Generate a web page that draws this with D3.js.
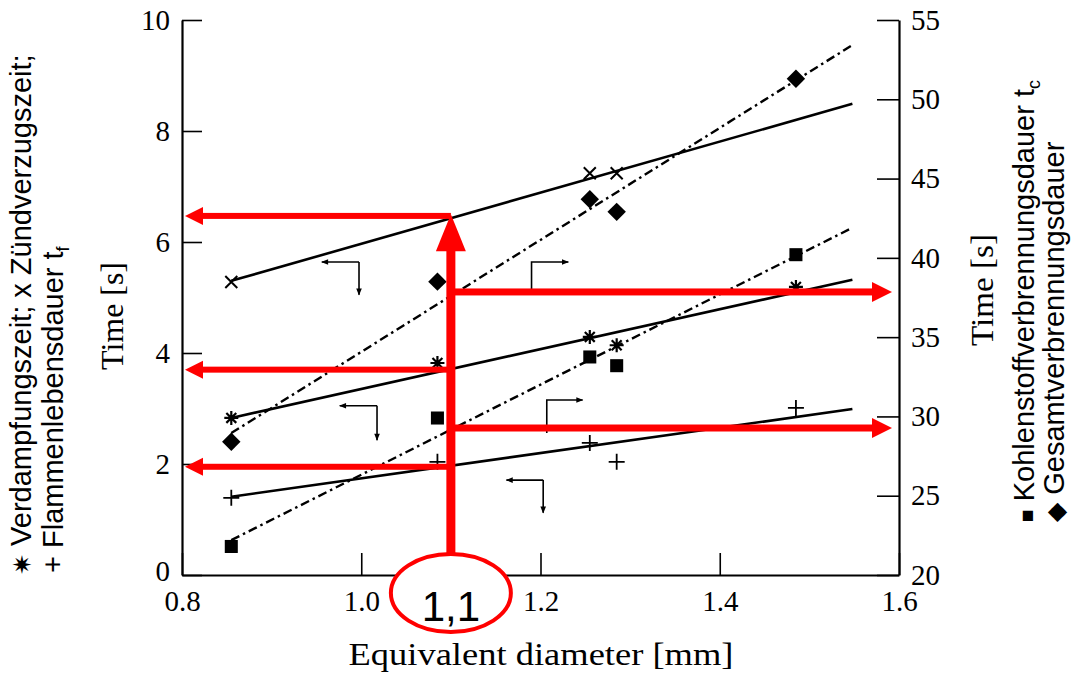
<!DOCTYPE html>
<html>
<head>
<meta charset="utf-8">
<script src="https://cdn.jsdelivr.net/npm/d3@7"></script>
<style>
  html, body { margin: 0; padding: 0; background: #fff; }
  svg { display: block; }
</style>
</head>
<body>
<svg id="chart" width="1072" height="675"></svg>
<script>
// ---------------- data ----------------
const diameters = [0.855, 1.085, 1.255, 1.285, 1.485];

// left axis series (Time [s], 0..10)
const ignitionX = [0.855, 1.255, 1.285];
const ignitionDelay = [5.28, 7.24, 7.24];               // x  Zündverzugszeit
const evaporationTime = [2.83, 3.82, 4.29, 4.14, 5.19]; // ✷ Verdampfungszeit
const flameLifetime = [1.39, 2.04, 2.38, 2.04, 3.01];   // + Flammenlebensdauer

// right axis series (Time [s], 20..55)
const carbonBurnout = [21.8, 29.9, 33.75, 33.2, 40.2];  // ■ Kohlenstoffverbrennungsdauer
const totalBurnout = [28.4, 38.5, 43.7, 42.9, 51.3];    // ◆ Gesamtverbrennungsdauer

// fitted lines [x0, y0, x1, y1]
const fitIgnition = [0.855, 5.30, 1.548, 8.49];
const fitEvaporation = [0.855, 2.83, 1.548, 5.32];
const fitFlame = [0.855, 1.41, 1.548, 2.99];
const fitTotal = [0.855, 28.95, 1.548, 53.42];
const fitCarbon = [0.855, 22.2, 1.548, 41.9];

// tick values
const xTicks = [0.8, 1.0, 1.2, 1.4, 1.6];
const leftTicks = [0, 2, 4, 6, 8, 10];
const rightTicks = [20, 25, 30, 35, 40, 45, 50, 55];

// axis-hint arrows: corner x, corner y, horizontal tip x, vertical end y
const hintLeft = [ // point to left axis
  [0.9975, 5.64, 0.956, 5.05],
  [1.0176, 3.05, 0.976, 2.43],
  [1.203, 1.71, 1.162, 1.12]
];
const hintRight = [ // point to right axis
  [1.19, 39.74, 1.231, 37.78],
  [1.207, 31.04, 1.247, 28.95]
];

// red reading aid at d = 1.1
const readX = 1.1;
const readTopLeft = 6.5;
const readLeftValues = [6.47, 3.70, 1.95];
const readRightValues = [37.85, 29.27];
const readLabel = "1,1";

// ---------------- scales ----------------
const svg = d3.select("#chart");
const x = d3.scaleLinear().domain([0.8, 1.6]).range([182, 899]);
const yL = d3.scaleLinear().domain([0, 10]).range([575, 20]);
const yR = d3.scaleLinear().domain([20, 55]).range([575, 20]);

const serif = "'Liberation Serif','Times New Roman',serif";
const sans = "'Liberation Sans',Arial,'DejaVu Sans',sans-serif";

// ---------------- axes ----------------
const gL = svg.append("g").attr("transform", `translate(${x.range()[0]},0)`)
  .call(d3.axisLeft(yL).tickValues(leftTicks).tickSizeInner(-20).tickSizeOuter(0).tickPadding(12).tickFormat(d3.format("d")));
const gR = svg.append("g").attr("transform", `translate(${x.range()[1]},0)`)
  .call(d3.axisRight(yR).tickValues(rightTicks).tickSizeInner(-22).tickSizeOuter(0).tickPadding(12).tickFormat(d3.format("d")));
const gB = svg.append("g").attr("transform", `translate(0,${yL.range()[0]})`)
  .call(d3.axisBottom(x).tickValues(xTicks).tickSizeInner(-22).tickSizeOuter(0).tickPadding(15).tickFormat(d3.format(".1f")));

[gL, gR, gB].forEach(g => {
  g.select(".domain").attr("stroke", "#000").attr("stroke-width", 2.2);
  g.selectAll(".tick line").attr("stroke", "#000").attr("stroke-width", 1.6);
  g.selectAll(".tick text").attr("fill", "#000").style("font-family", serif).style("font-size", "29px");
});
// keep the "0" of the left axis just clear of the "0.8" below it
gL.selectAll(".tick text").filter(d => d === 0).attr("dy", "0.2em");

// axis titles
svg.append("text").attr("x", 541).attr("y", 665).attr("text-anchor", "middle")
  .attr("textLength", 385).attr("lengthAdjust", "spacingAndGlyphs")
  .style("font-family", serif).style("font-size", "31px").attr("fill", "#000")
  .text("Equivalent diameter [mm]");
svg.append("text").attr("transform", "translate(123,316) rotate(-90)").attr("text-anchor", "middle")
  .attr("textLength", 108).attr("lengthAdjust", "spacingAndGlyphs")
  .style("font-family", serif).style("font-size", "31px").attr("fill", "#000")
  .text("Time [s]");
svg.append("text").attr("transform", "translate(993,290) rotate(-90)").attr("text-anchor", "middle")
  .attr("textLength", 112).attr("lengthAdjust", "spacingAndGlyphs")
  .style("font-family", serif).style("font-size", "31px").attr("fill", "#000")
  .text("Time [s]");

// ---------------- fitted lines ----------------
function fitLine(fit, yScale, dashed) {
  const line = d3.line().x(d => x(d[0])).y(d => yScale(d[1]));
  svg.append("path")
    .attr("d", line([[fit[0], fit[1]], [fit[2], fit[3]]]))
    .attr("fill", "none").attr("stroke", "#000")
    .attr("stroke-width", dashed ? 2.4 : 2.6)
    .attr("stroke-dasharray", dashed ? "9,4,2.5,4" : null);
}
fitLine(fitIgnition, yL, false);
fitLine(fitEvaporation, yL, false);
fitLine(fitFlame, yL, false);
fitLine(fitTotal, yR, true);
fitLine(fitCarbon, yR, true);

// ---------------- markers ----------------
function crossPath(r) { return `M${-r},${-r}L${r},${r}M${-r},${r}L${r},${-r}`; }
function plusPath(r) { return `M${-r},0L${r},0M0,${-r}L0,${r}`; }
function starPath(r) {
  let p = "";
  for (let i = 0; i < 4; i++) {
    const a = i * Math.PI / 4;
    p += `M${-r * Math.cos(a)},${-r * Math.sin(a)}L${r * Math.cos(a)},${r * Math.sin(a)}`;
  }
  return p;
}

svg.append("g").selectAll("path").data(ignitionX.map((d, i) => [d, ignitionDelay[i]])).join("path")
  .attr("transform", d => `translate(${x(d[0])},${yL(d[1])})`)
  .attr("d", crossPath(6)).attr("stroke", "#000").attr("stroke-width", 2).attr("fill", "none");

svg.append("g").selectAll("path").data(diameters.map((d, i) => [d, evaporationTime[i]])).join("path")
  .attr("transform", d => `translate(${x(d[0])},${yL(d[1])})`)
  .attr("d", starPath(7)).attr("stroke", "#000").attr("stroke-width", 2.2).attr("fill", "none");

svg.append("g").selectAll("path").data(diameters.map((d, i) => [d, flameLifetime[i]])).join("path")
  .attr("transform", d => `translate(${x(d[0])},${yL(d[1])})`)
  .attr("d", plusPath(8)).attr("stroke", "#000").attr("stroke-width", 1.8).attr("fill", "none");

svg.append("g").selectAll("path").data(diameters.map((d, i) => [d, carbonBurnout[i]])).join("path")
  .attr("transform", d => `translate(${x(d[0])},${yR(d[1])})`)
  .attr("d", d3.symbol(d3.symbolSquare, 170)()).attr("fill", "#000");

svg.append("g").selectAll("path").data(diameters.map((d, i) => [d, totalBurnout[i]])).join("path")
  .attr("transform", d => `translate(${x(d[0])},${yR(d[1])}) rotate(45)`)
  .attr("d", d3.symbol(d3.symbolSquare, 170)()).attr("fill", "#000");

// ---------------- axis hint arrows ----------------
const defs = svg.append("defs");
defs.append("marker").attr("id", "ah").attr("viewBox", "0 0 10 10").attr("refX", 9).attr("refY", 5)
  .attr("markerWidth", 9).attr("markerHeight", 7).attr("markerUnits", "userSpaceOnUse").attr("orient", "auto")
  .append("path").attr("d", "M0,1L10,5L0,9Z").attr("fill", "#000");

hintLeft.forEach(h => {
  const cx = x(h[0]), cy = yL(h[1]);
  svg.append("path").attr("d", `M${cx},${cy}L${x(h[2])},${cy}`).attr("stroke", "#000").attr("stroke-width", 1.6).attr("marker-end", "url(#ah)");
  svg.append("path").attr("d", `M${cx},${cy}L${cx},${yL(h[3])}`).attr("stroke", "#000").attr("stroke-width", 1.6).attr("marker-end", "url(#ah)");
});
hintRight.forEach(h => {
  const cx = x(h[0]), cy = yR(h[1]);
  svg.append("path").attr("d", `M${cx},${yR(h[3])}L${cx},${cy}L${x(h[2])},${cy}`).attr("fill", "none")
    .attr("stroke", "#000").attr("stroke-width", 1.6).attr("marker-end", "url(#ah)");
});

// ---------------- legends (rotated) ----------------
function legendLine(tx, ty, parts) {
  const t = svg.append("text").attr("transform", `translate(${tx},${ty}) rotate(-90)`)
    .style("font-family", sans).style("font-size", "29px").attr("fill", "#000");
  parts.forEach(p => {
    const s = t.append("tspan").text(p.t);
    if (p.sub) s.style("font-size", "18px").attr("dy", 6);
    if (p.size) s.style("font-size", p.size);
  });
}
legendLine(31, 575, [{ t: "✷", size: "25px" }, { t: "  Verdampfungszeit; x Zündverzugszeit;" }]);
legendLine(63, 573, [{ t: "+ Flammenlebensdauer t" }, { t: "f", sub: true }]);
legendLine(1034, 522, [{ t: "■", size: "21px" }, { t: " Kohlenstoffverbrennungsdauer t" }, { t: "c", sub: true }]);
legendLine(1064, 522, [{ t: "◆", size: "25px" }, { t: " Gesamtverbrennungsdauer" }]);

// ---------------- red reading aid ----------------
const red = "#ff0000";
const rx = x(readX);
const rTop = yL(readTopLeft);
// vertical arrow
svg.append("rect").attr("x", rx - 4.5).attr("y", rTop + 30).attr("width", 9).attr("height", 553 - (rTop + 30)).attr("fill", red);
svg.append("path").attr("d", `M${rx},${rTop}L${rx + 15},${rTop + 37}L${rx - 15},${rTop + 37}Z`).attr("fill", red);
// left arrows
readLeftValues.forEach(v => {
  const yy = yL(v);
  const tip = x.range()[0] + 3;
  svg.append("rect").attr("x", tip + 15).attr("y", yy - 3).attr("width", rx - tip - 15).attr("height", 6).attr("fill", red);
  svg.append("path").attr("d", `M${tip},${yy}L${tip + 18},${yy - 9}L${tip + 18},${yy + 9}Z`).attr("fill", red);
});
// right arrows
readRightValues.forEach(v => {
  const yy = yR(v);
  const tip = x.range()[1] - 7;
  svg.append("rect").attr("x", rx).attr("y", yy - 3.5).attr("width", tip - rx - 16).attr("height", 7).attr("fill", red);
  svg.append("path").attr("d", `M${tip},${yy}L${tip - 20},${yy - 10}L${tip - 20},${yy + 10}Z`).attr("fill", red);
});
// ellipse with label
svg.append("ellipse").attr("cx", rx).attr("cy", 593).attr("rx", 60).attr("ry", 39)
  .attr("fill", "#fff").attr("stroke", red).attr("stroke-width", 4);
svg.append("text").attr("x", rx).attr("y", 621).attr("text-anchor", "middle")
  .style("font-family", sans).style("font-size", "42px").attr("fill", "#000").text(readLabel);
</script>
</body>
</html>
